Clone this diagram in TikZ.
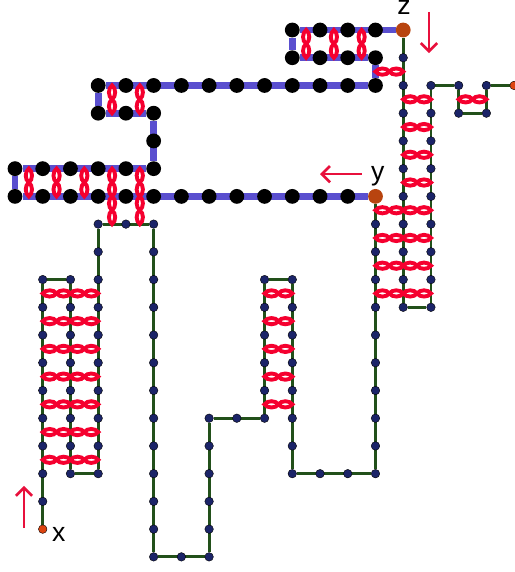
\documentclass[tikz,border=0pt]{standalone}
\usepackage{fontspec}
\setmainfont{Liberation Sans}
\usepackage{xcolor}
\definecolor{strand}{HTML}{22501A}
\definecolor{helix}{HTML}{5A4FCF}
\definecolor{navy}{HTML}{1B2468}
\definecolor{rust}{HTML}{B8440F}
\definecolor{ember}{HTML}{DC4410}
\definecolor{bondred}{HTML}{F5002F}
\definecolor{cue}{HTML}{E8103C}
\usetikzlibrary{arrows.meta,calc,backgrounds}

\begin{document}
\begin{tikzpicture}[
  x=7.5mm,y=-7.5mm,
  site/.style={circle,draw=black,line width=0.3pt,fill=navy,inner sep=0pt,minimum size=6.6pt},
  bead/.style={circle,fill=black,inner sep=0pt,minimum size=11.4pt},
  endbig/.style={circle,fill=rust,inner sep=0pt,minimum size=11.4pt},
  endsmall/.style={circle,draw=black,line width=0.3pt,fill=ember,inner sep=0pt,minimum size=6.6pt},
  thin strand/.style={draw=strand,line width=2.2pt},
  thick strand/.style={draw=helix,line width=5.2pt},
  hbond/.style={draw=bondred,line width=3pt,to path={(\tikztostart)
    .. controls +(.1,-.15) and +(-.1,-.15) .. ++(.5,0) .. controls +(.1,-.15) and +(-.1,-.15) .. ++(.5,0)
    .. controls +(-.1,.15) and +(.1,.15) .. ++(-.5,0) .. controls +(-.1,.15) and +(.1,.15) .. ++(-.5,0) -- cycle}},
  vbond/.style={draw=bondred,line width=3pt,to path={(\tikztostart)
    .. controls +(-.15,.1) and +(-.15,-.1) .. ++(0,.5) .. controls +(-.15,.1) and +(-.15,-.1) .. ++(0,.5)
    .. controls +(.15,-.1) and +(.15,.1) .. ++(0,-.5) .. controls +(.15,-.1) and +(.15,.1) .. ++(0,-.5) -- cycle}},
  cuearrow/.style={-{Straight Barb[length=2.2mm,width=4.4mm]},draw=cue,line width=2pt},
  strandlabel/.style={font=\fontsize{20.5}{20.5}\selectfont,inner sep=0pt,text=black}
]
\useasboundingbox (-0.541,-1.082) rectangle (18,19.546);
% thin strands, column by column
\foreach \i/\a/\b in {1/9/17,2/9/16,3/7/16,4/7/7,5/7/19,6/19/19,7/14/19,8/14/14,9/9/14,10/9/16,11/16/16,12/16/16,13/7/16,14/1/10,15/2/10,16/2/3,17/2/3}
  \foreach \j in {\a,...,\b}
    \node[site] (n-\i-\j) at (\i,\j) {};
% thick strand, row by row
\foreach \j/\a/\b in {0/10/13,1/10/13,2/3/13,3/3/5,4/5/5,5/0/5,6/0/12}
  \foreach \i in {\a,...,\b}
    \node[bead] (n-\i-\j) at (\i,\j) {};
% strand ends
\node[endsmall] (x) at (1,18) {};
\node[endbig] (y) at (13,6) {};
\node[endbig] (z) at (14,0) {};
\node[endsmall] (w) at (18,2) {};
\node[strandlabel,anchor=base west] (xlabel) at (1.33,18.43) {x};
\node[strandlabel,anchor=base] (ylabel) at (13.08,5.41) {y};
\node[strandlabel,anchor=base] (zlabel) at (14.03,-0.55) {z};
\begin{pgfonlayer}{background}
\draw[thin strand] (x) -- (n-1-9) -- (n-2-9) -- (n-2-16) -- (n-3-16) -- (n-3-7) -- (n-5-7) -- (n-5-19) -- (n-7-19) -- (n-7-14) -- (n-9-14) -- (n-9-9) -- (n-10-9) -- (n-10-16) -- (n-13-16) -- (y);
\draw[thick strand] (y) -- (n-0-6) -- (n-0-5) -- (n-5-5) -- (n-5-3) -- (n-3-3) -- (n-3-2) -- (n-13-2) -- (n-13-1) -- (n-10-1) -- (n-10-0) -- (z);
\draw[thin strand] (z) -- (n-14-10) -- (n-15-10) -- (n-15-2) -- (n-16-2) -- (n-16-3) -- (n-17-3) -- (n-17-2) -- (w);
\end{pgfonlayer}
% pairs across
\foreach \i/\j in {13/1,14/2,14/3,14/4,14/5,13/6,14/6,13/7,14/7,13/8,14/8,13/9,14/9,16/2,
    1/9,2/9,1/10,2/10,1/11,2/11,1/12,2/12,1/13,2/13,1/14,2/14,1/15,2/15,
    9/9,9/10,9/11,9/12,9/13}
  \draw[hbond] (\i,\j+.5) to (\i+1,\j+.5);
\foreach \i/\j in {10/0,11/0,12/0,3/2,4/2,0/5,1/5,2/5,3/5,4/5,3/6,4/6}
  \draw[vbond] (\i+.5,\j) to (\i+.5,\j+1);
% direction cues
\coordinate (xtail) at (0.325,17.96);
\coordinate (xhead) at (0.325,16.44);
\coordinate (ytail) at (12.51,5.2);
\coordinate (yhead) at (11,5.2);
\coordinate (ztail) at (14.93,-0.65);
\coordinate (zhead) at (14.93,0.83);
\draw[cuearrow] (xtail) -- (xhead);
\draw[cuearrow] (ytail) -- (yhead);
\draw[cuearrow] (ztail) -- (zhead);
\end{tikzpicture}
\end{document}
